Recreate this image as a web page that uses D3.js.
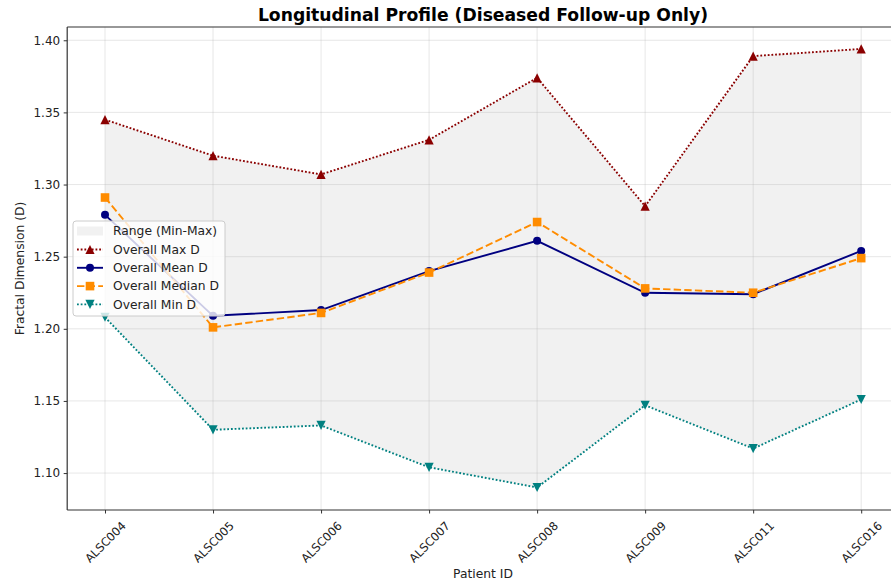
<!DOCTYPE html>
<html>
<head>
<meta charset="utf-8">
<script src="https://cdn.jsdelivr.net/npm/d3@7"></script>
<style>
  html, body { margin: 0; padding: 0; background: #fff; }
  svg { display: block; font-family: "DejaVu Sans", sans-serif; }
</style>
</head>
<body>
<svg id="chart" width="891" height="583"></svg>
<script>
// Patients in follow-up order
const patients = ["ALSC004", "ALSC005", "ALSC006", "ALSC007", "ALSC008", "ALSC009", "ALSC011", "ALSC016"];

// Fractal dimension summaries per patient
const maxD    = [1.345, 1.320, 1.307, 1.331, 1.374, 1.285, 1.389, 1.394];
const meanD   = [1.279, 1.209, 1.213, 1.240, 1.261, 1.225, 1.224, 1.254];
const medianD = [1.291, 1.201, 1.211, 1.239, 1.274, 1.228, 1.225, 1.249];
const minD    = [1.208, 1.130, 1.133, 1.104, 1.090, 1.147, 1.117, 1.151];

const yTicks = [1.10, 1.15, 1.20, 1.25, 1.30, 1.35, 1.40];

const svg = d3.select("#chart");
const plotL = 67.2, plotR = 899, plotT = 27, plotB = 510;

const x = d3.scalePoint().domain(patients).range([plotL, plotR]).padding(0.35);
const y = d3.scaleLinear().domain([1.0744, 1.4092]).range([plotB, plotT]);

// Min–max band
const band = patients.map((p, i) => ({ p, lo: minD[i], hi: maxD[i] }));
svg.append("path")
  .datum(band)
  .attr("fill", "#808080")
  .attr("fill-opacity", 0.11)
  .attr("d", d3.area().x(d => x(d.p)).y0(d => y(d.lo)).y1(d => y(d.hi)));

// Grid
const grid = svg.append("g").attr("stroke", "#b0b0b0").attr("stroke-opacity", 0.3).attr("stroke-width", 1);
grid.selectAll("line.h").data(yTicks).join("line")
  .attr("x1", plotL).attr("x2", plotR)
  .attr("y1", d => y(d)).attr("y2", d => y(d));
grid.selectAll("line.v").data(patients).join("line")
  .attr("x1", d => x(d)).attr("x2", d => x(d))
  .attr("y1", plotT).attr("y2", plotB);

// Series definitions
const series = [
  { name: "Overall Max D",    values: maxD,    color: "#8b0000", dash: "1.8,1.9", marker: "triUp" },
  { name: "Overall Mean D",   values: meanD,   color: "#000080", dash: null,      marker: "circle" },
  { name: "Overall Median D", values: medianD, color: "#ff8c00", dash: "7.4,3.2", marker: "square" },
  { name: "Overall Min D",    values: minD,    color: "#008080", dash: "1.8,1.9", marker: "triDown" }
];

function drawMarker(g, type, cx, cy, color) {
  if (type === "circle") {
    g.append("circle").attr("cx", cx).attr("cy", cy).attr("r", 4).attr("fill", color);
  } else if (type === "square") {
    g.append("rect").attr("x", cx - 4.3).attr("y", cy - 4.3).attr("width", 8.6).attr("height", 8.6).attr("fill", color);
  } else if (type === "triUp") {
    g.append("path").attr("d", `M${cx},${cy - 4.6}L${cx - 4.6},${cy + 4.6}L${cx + 4.6},${cy + 4.6}Z`).attr("fill", color);
  } else {
    g.append("path").attr("d", `M${cx},${cy + 4.6}L${cx - 4.6},${cy - 4.6}L${cx + 4.6},${cy - 4.6}Z`).attr("fill", color);
  }
}

const line = d3.line().x(d => x(d.p)).y(d => y(d.v));
series.forEach(s => {
  const pts = patients.map((p, i) => ({ p, v: s.values[i] }));
  const g = svg.append("g");
  g.append("path").datum(pts)
    .attr("fill", "none").attr("stroke", s.color).attr("stroke-width", 1.9)
    .attr("stroke-dasharray", s.dash)
    .attr("d", line);
  pts.forEach(d => drawMarker(g, s.marker, x(d.p), y(d.v), s.color));
});

// Axes spines
const spine = svg.append("g").attr("stroke", "#333").attr("stroke-width", 1.2).attr("fill", "none");
spine.append("line").attr("x1", plotL).attr("x2", plotL).attr("y1", plotT).attr("y2", plotB);
spine.append("line").attr("x1", plotL).attr("x2", plotR).attr("y1", plotB).attr("y2", plotB);
spine.append("line").attr("x1", plotL).attr("x2", plotR).attr("y1", plotT).attr("y2", plotT);

// Y axis
const yAxis = svg.append("g").attr("transform", `translate(${plotL},0)`)
  .call(d3.axisLeft(y).tickValues(yTicks).tickFormat(d3.format(".2f")).tickSize(3.5).tickPadding(3.5));
yAxis.select(".domain").remove();
yAxis.selectAll("line").attr("stroke", "#333");
yAxis.selectAll("text").attr("font-size", 12).attr("fill", "#222").attr("font-family", "DejaVu Sans");

// X axis
const xAxis = svg.append("g").attr("transform", `translate(0,${plotB})`)
  .call(d3.axisBottom(x).tickSize(3.5).tickPadding(0));
xAxis.select(".domain").remove();
xAxis.selectAll("line").attr("stroke", "#333");
xAxis.selectAll("text")
  .attr("font-size", 11.6).attr("fill", "#222").attr("font-family", "DejaVu Sans")
  .attr("text-anchor", "middle").attr("dy", "0.35em")
  .attr("transform", "translate(0,32) rotate(-45)")
  .attr("y", 0);

// Axis titles
svg.append("text").attr("x", 483).attr("y", 578).attr("text-anchor", "middle")
  .attr("font-size", 12.3).attr("fill", "#222").text("Patient ID");
svg.append("text").attr("transform", "translate(24,268.5) rotate(-90)").attr("text-anchor", "middle")
  .attr("font-size", 12.3).attr("fill", "#222").text("Fractal Dimension (D)");

// Title
svg.append("text").attr("x", 483).attr("y", 20.5).attr("text-anchor", "middle")
  .attr("font-size", 17.2).attr("font-weight", "bold").attr("fill", "#000")
  .text("Longitudinal Profile (Diseased Follow-up Only)");

// Legend
const lg = svg.append("g").attr("transform", "translate(73,221)");
lg.append("rect").attr("x", 0).attr("y", 0).attr("width", 152).attr("height", 95).attr("rx", 3)
  .attr("fill", "#fff").attr("fill-opacity", 0.8).attr("stroke", "#ccc").attr("stroke-width", 1);
const rowY = [10, 28.5, 46.8, 65.1, 83.4];
lg.append("rect").attr("x", 4).attr("y", rowY[0] - 4.5).attr("width", 26).attr("height", 9)
  .attr("fill", "#808080").attr("fill-opacity", 0.11);
lg.append("text").attr("x", 40).attr("y", rowY[0]).attr("dy", "0.35em").attr("font-size", 12.3).attr("fill", "#222")
  .text("Range (Min-Max)");
series.forEach((s, i) => {
  const ry = rowY[i + 1];
  lg.append("line").attr("x1", 4).attr("x2", 30).attr("y1", ry).attr("y2", ry)
    .attr("stroke", s.color).attr("stroke-width", 1.9).attr("stroke-dasharray", s.dash);
  drawMarker(lg, s.marker, 17, ry, s.color);
  lg.append("text").attr("x", 40).attr("y", ry).attr("dy", "0.35em").attr("font-size", 12.3).attr("fill", "#222")
    .text(s.name);
});
</script>
</body>
</html>
